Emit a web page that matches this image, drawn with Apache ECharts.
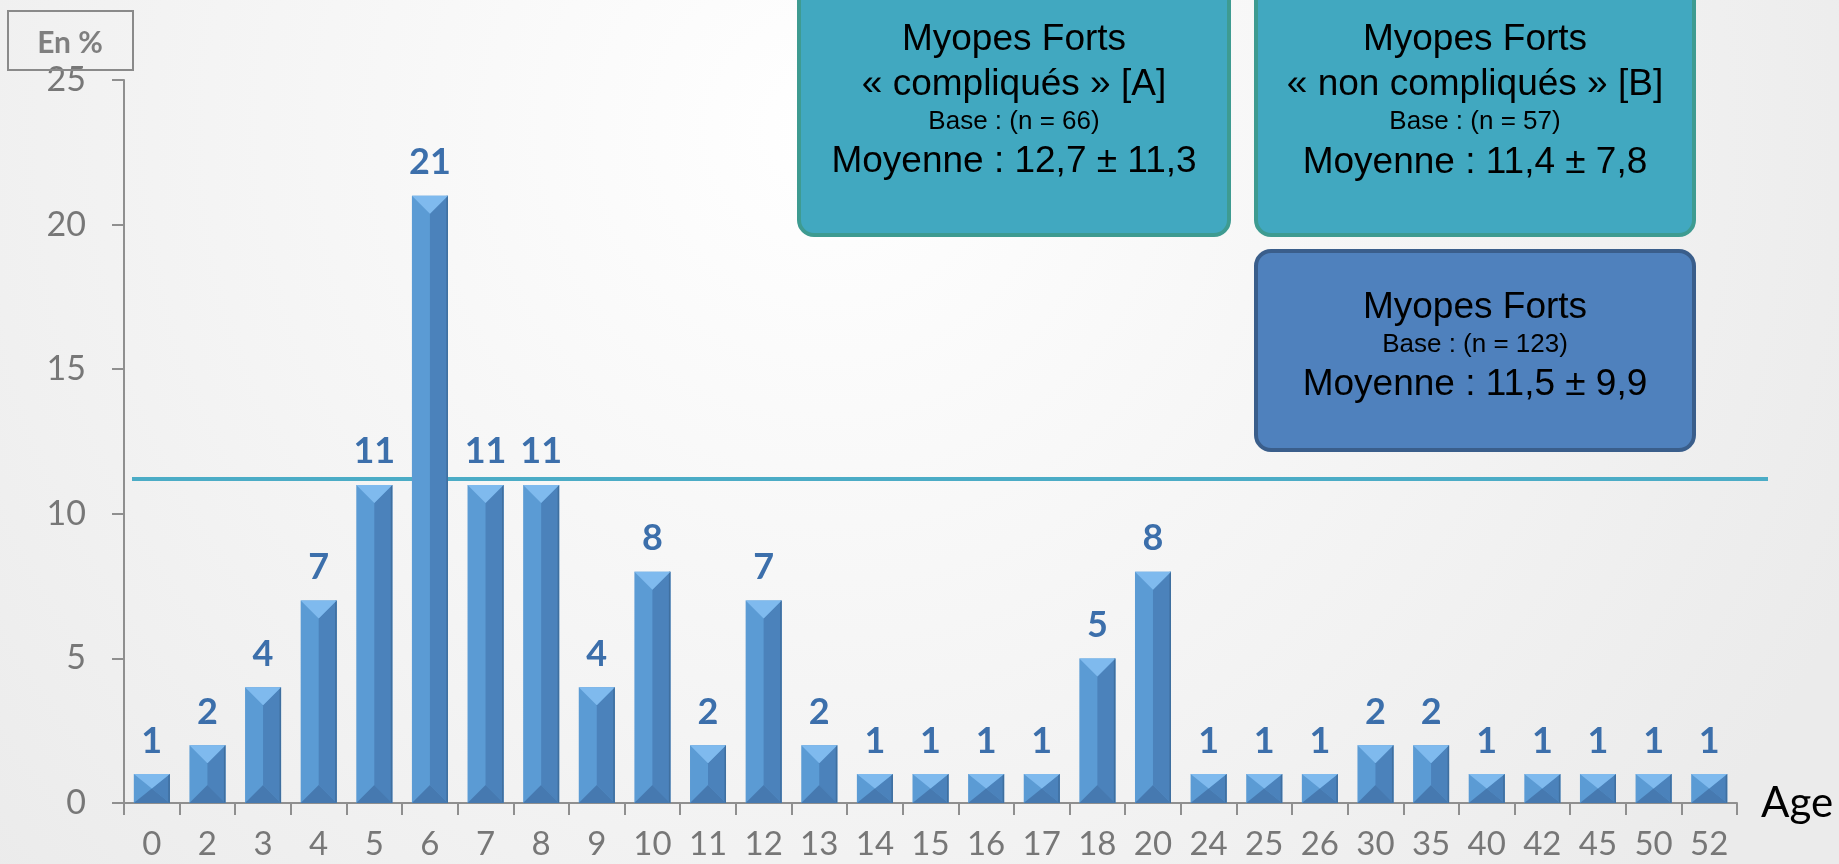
<!DOCTYPE html>
<html>
<head>
<meta charset="utf-8">
<script src="https://cdn.jsdelivr.net/npm/echarts@6/dist/echarts.min.js"></script>
<style>
html,body{margin:0;padding:0;}
#chart{width:1839px;height:864px;}
</style>
</head>
<body>
<div id="chart"></div>
<script>
// ---- data ----
const ages = ['0','2','3','4','5','6','7','8','9','10','11','12','13','14','15','16','17','18','20','24','25','26','30','35','40','42','45','50','52'];
const pct = [1,2,4,7,11,21,11,11,4,8,2,7,2,1,1,1,1,5,8,1,1,1,2,2,1,1,1,1,1];
const meanValue = 11.2;
const yAxisName = 'En %';
const xAxisName = 'Age';
const boxA = ['Myopes Forts', '« compliqués » [A]', 'Base : (n = 66)', 'Moyenne : 12,7 ± 11,3'];
const boxB = ['Myopes Forts', '« non compliqués » [B]', 'Base : (n = 57)', 'Moyenne : 11,4 ± 7,8'];
const boxC = ['Myopes Forts', 'Base : (n = 123)', 'Moyenne : 11,5 ± 9,9'];

// ---- style ----
const BAR_W = 36;
const GRID = {left: 124, right: 102, top: 80, bottom: 61};
const axisGray = '#8f8f8f';
const labelGray = '#777777';

const chart = echarts.init(document.getElementById('chart'));

function bevel(params, api) {
  const xi = api.value(0), v = api.value(1);
  const top = api.coord([xi, v]);
  const base = api.coord([xi, 0]);
  const cx = top[0], half = BAR_W / 2;
  const x0 = cx - half, x1 = cx + half, yT = top[1], yB = base[1];
  const d = Math.min(half, (yB - yT) / 2);
  return {
    type: 'group',
    children: [
      {type: 'polygon', shape: {points: [[cx, yT + d], [x1, yT], [x1, yB], [cx, yB - d]]}, style: {fill: '#4b82bb'}},
      {type: 'polygon', shape: {points: [[x1 - 1.5, yT], [x1, yT], [x1, yB], [x1 - 1.5, yB]]}, style: {fill: '#3f6f9f'}},
      {type: 'polygon', shape: {points: [[x0, yB], [x1, yB], [cx, yB - d]]}, style: {fill: '#4679b0'}},
      {type: 'polygon', shape: {points: [[x0, yT], [x1, yT], [cx, yT + d]]}, style: {fill: '#7fbaee'}}
    ]
  };
}

function boxTexts(lines, cx, ys, sizes) {
  return lines.map((t, i) => ({
    type: 'text', z: 20,
    style: {text: t, x: cx, y: ys[i], align: 'center', verticalAlign: 'middle',
      font: sizes[i] + 'px "Liberation Sans", Arial, sans-serif', fill: '#000'}
  }));
}

const option = {
  backgroundColor: {
    type: 'radial', x: 0.45, y: 0.15, r: 1.3,
    colorStops: [{offset: 0, color: '#ffffff'}, {offset: 1, color: '#ebebeb'}]
  },
  animation: false,
  grid: [
    Object.assign({}, GRID),
    {left: 132, right: 71, top: GRID.top, bottom: GRID.bottom}
  ],
  xAxis: [
    {
      type: 'category', data: ages, gridIndex: 0, boundaryGap: true,
      name: xAxisName, nameLocation: 'end', nameGap: 24,
      nameTextStyle: {fontFamily: 'Lato', fontSize: 42, color: '#000', verticalAlign: 'middle', padding: [0, 0, 10, 0]},
      axisLine: {lineStyle: {color: axisGray, width: 2}},
      axisTick: {show: true, length: 12, inside: false, alignWithLabel: false, lineStyle: {color: axisGray, width: 2}},
      axisLabel: {fontFamily: 'Lato', fontSize: 33, color: labelGray, margin: 25, interval: 0}
    },
    {type: 'value', gridIndex: 1, min: 0, max: 1, show: false}
  ],
  yAxis: [
    {
      type: 'value', gridIndex: 0, min: 0, max: 25, interval: 5,
      splitLine: {show: false},
      axisLine: {show: true, lineStyle: {color: axisGray, width: 2}},
      axisTick: {show: true, length: 12, inside: false, lineStyle: {color: axisGray, width: 2}},
      axisLabel: {fontFamily: 'Lato', fontSize: 34, color: labelGray, margin: 38, padding: [6, 0, 0, 0]}
    },
    {type: 'value', gridIndex: 1, min: 0, max: 25, show: false}
  ],
  series: [
    {
      type: 'line', xAxisIndex: 1, yAxisIndex: 1, z: 1,
      data: [[0, meanValue], [1, meanValue]],
      symbol: 'none', silent: true,
      lineStyle: {color: '#4bacc6', width: 4}
    },
    {
      type: 'bar', xAxisIndex: 0, yAxisIndex: 0, z: 2,
      data: pct, barWidth: BAR_W,
      itemStyle: {color: '#5b9bd4'},
      label: {show: true, position: 'top', distance: 15, fontFamily: 'Lato', fontWeight: 'bold', fontSize: 36, color: '#3c6fab'}
    },
    {
      type: 'custom', xAxisIndex: 0, yAxisIndex: 0, z: 3,
      data: pct.map((v, i) => [i, v]),
      encode: {x: 0, y: 1},
      renderItem: bevel, silent: true
    }
  ],
  graphic: [
    {type: 'rect', z: 10, shape: {x: 8, y: 11, width: 125, height: 59}, style: {fill: 'none', stroke: '#8a8a8a', lineWidth: 2}},
    {type: 'text', z: 11, style: {text: yAxisName, x: 70, y: 43, align: 'center', verticalAlign: 'middle', font: 'bold 30px Lato', fill: '#7f7f7f'}},
    {type: 'rect', z: 10, shape: {x: 799, y: -20, width: 430, height: 255, r: 15}, style: {fill: '#41a8c0', stroke: '#3e9b91', lineWidth: 4}},
    {type: 'rect', z: 10, shape: {x: 1256, y: -20, width: 438, height: 255, r: 15}, style: {fill: '#41a8c0', stroke: '#3e9b91', lineWidth: 4}},
    {type: 'rect', z: 10, shape: {x: 1256, y: 251, width: 438, height: 199, r: 15}, style: {fill: '#4f81bd', stroke: '#3a5e8b', lineWidth: 4}}
  ]
  .concat(boxTexts(boxA, 1014, [40, 85, 122, 162], [37, 37, 26, 37]))
  .concat(boxTexts(boxB, 1475, [39.5, 85, 122, 163], [37, 37, 26, 37]))
  .concat(boxTexts(boxC, 1475, [308, 344.5, 385], [37, 26, 37]))
};
chart.setOption(option);
</script>
</body>
</html>
